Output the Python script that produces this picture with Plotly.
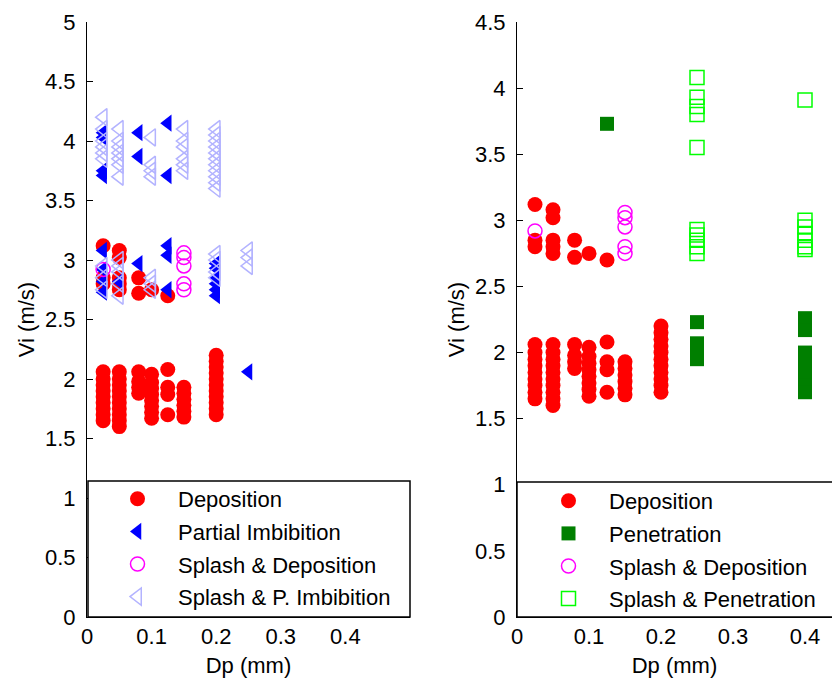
import plotly.graph_objects as go

# ---------------- data ----------------
# Deposition (shared by both panels)
dep_x = ([0.025]*12 + [0.05]*15 + [0.08]*6 + [0.1]*9 + [0.125]*5 + [0.15]*6 + [0.2]*11)
dep_y = ([3.12, 2.85, 2.8, 2.06, 2.0, 1.95, 1.9, 1.85, 1.8, 1.75, 1.7, 1.65] +
         [3.08, 3.02, 2.85, 2.8, 2.75, 2.06, 2.0, 1.95, 1.9, 1.85, 1.8, 1.75, 1.7, 1.65, 1.6] +
         [2.85, 2.72, 2.06, 1.98, 1.93, 1.88] +
         [2.75, 2.04, 1.97, 1.92, 1.87, 1.82, 1.77, 1.72, 1.67] +
         [2.7, 2.08, 1.93, 1.87, 1.7] +
         [1.93, 1.88, 1.83, 1.78, 1.73, 1.68] +
         [2.2, 2.15, 2.1, 2.05, 2.0, 1.95, 1.9, 1.85, 1.8, 1.75, 1.7])

# Splash & Deposition (shared)
sdep_x = [0.025, 0.15, 0.15, 0.15, 0.15, 0.15]
sdep_y = [2.92, 3.06, 3.02, 2.95, 2.8, 2.75]

# Partial Imbibition (left panel)
pimb_x = ([0.025]*8 + [0.05] + [0.08]*3 + [0.125]*5 + [0.2]*6 + [0.25])
pimb_y = ([4.07, 4.03, 3.75, 3.71, 3.08, 2.92, 2.82, 2.73] + [2.82] +
          [4.07, 3.87, 2.97] + [4.15, 3.71, 3.12, 3.04, 2.75] +
          [2.97, 2.93, 2.85, 2.8, 2.75, 2.7] + [2.06])

# Splash & P. Imbibition (left panel)
spimb_x = ([0.025]*9 + [0.05]*12 + [0.1]*7 + [0.15]*6 + [0.2]*15 + [0.25]*3)
spimb_y = ([4.2, 4.1, 4.0, 3.95, 3.9, 3.85, 2.95, 2.85, 2.75] +
           [4.1, 4.0, 3.95, 3.9, 3.85, 3.8, 3.7, 3.0, 2.95, 2.9, 2.8, 2.7] +
           [4.03, 3.8, 3.75, 3.7, 2.85, 2.8, 2.75] +
           [4.1, 4.0, 3.95, 3.85, 3.8, 3.75] +
           [4.1, 4.05, 4.0, 3.95, 3.9, 3.85, 3.8, 3.75, 3.7, 3.65, 3.6, 3.05, 3.0, 2.9, 2.85] +
           [3.08, 3.02, 2.95])

# Penetration (right panel)
pen_x = [0.125] + [0.25]*4 + [0.4]*9
pen_y = ([3.73] + [2.23, 2.07, 2.0, 1.95] +
         [2.26, 2.17, 2.0, 1.95, 1.9, 1.85, 1.8, 1.75, 1.7])

# Splash & Penetration (right panel)
spen_x = [0.25]*10 + [0.4]*7
spen_y = ([4.08, 3.93, 3.86, 3.8, 3.55, 2.93, 2.89, 2.85, 2.8, 2.75] +
          [3.91, 3.0, 2.95, 2.9, 2.85, 2.8, 2.78])

x_ticks = [0, 0.1, 0.2, 0.3, 0.4]
y_ticks_left = [0, 0.5, 1, 1.5, 2, 2.5, 3, 3.5, 4, 4.5, 5]
y_ticks_right = [0, 0.5, 1, 1.5, 2, 2.5, 3, 3.5, 4, 4.5]

# ---------------- figure ----------------
W, H = 832, 682
FONT = "Liberation Sans, Arial, sans-serif"
FS = 22

def px_x(p):
    return p / W

def px_y(p):
    return 1 - p / H

fig = go.Figure()

RED = "#ff0000"
BLUE = "#0000ff"
MAG = "#ff00ff"
LBLUE = "#b3b3ff"
DGREEN = "#007f00"
LGREEN = "#00ff00"

def add(x, y, name, symbol, size, color, ax, leg, open_=False):
    if open_:
        marker = dict(symbol=symbol, size=size, color=color, line=dict(width=1.5, color=color))
    else:
        marker = dict(symbol=symbol, size=size, color=color, line=dict(width=0))
    fig.add_trace(go.Scatter(x=x, y=y, mode="markers", name=name, marker=marker,
                             xaxis="x" + ax, yaxis="y" + ax, legend=leg,
                             legendgroup=leg + name))

# left panel
add(dep_x, dep_y, "Deposition", "circle", 15, RED, "", "legend")
add(pimb_x, pimb_y, "Partial Imbibition", "triangle-left", 15, BLUE, "", "legend")
add(sdep_x, sdep_y, "Splash & Deposition", "circle-open", 14, MAG, "", "legend", True)
add(spimb_x, spimb_y, "Splash & P. Imbibition", "triangle-left-open", 15, LBLUE, "", "legend", True)

# right panel
add(dep_x, dep_y, "Deposition", "circle", 15, RED, "2", "legend2")
add(pen_x, pen_y, "Penetration", "square", 14, DGREEN, "2", "legend2")
add(sdep_x, sdep_y, "Splash & Deposition", "circle-open", 14, MAG, "2", "legend2", True)
add(spen_x, spen_y, "Splash & Penetration", "square-open", 14, LGREEN, "2", "legend2", True)

axis_common = dict(showline=True, linecolor="black", linewidth=1, ticks="inside", ticklen=6,
                   tickcolor="black", tickwidth=1, showgrid=False, zeroline=False,
                   automargin=False,
                   tickfont=dict(family=FONT, size=FS, color="black"),
                   title_font=dict(family=FONT, size=FS, color="black"), mirror=False)

y_dom = [px_y(617), px_y(22)]

fig.update_layout(
    width=W, height=H,
    margin=dict(l=0, r=0, t=0, b=0, pad=0, autoexpand=False),
    paper_bgcolor="white", plot_bgcolor="white",
    font=dict(family=FONT, size=FS, color="black"),
    xaxis=dict(domain=[px_x(87), px_x(410)], range=[0, 0.5], tickvals=x_ticks,
               title=dict(text="Dp (mm)", standoff=9), anchor="y", **axis_common),
    yaxis=dict(domain=y_dom, range=[0, 5], tickvals=y_ticks_left, anchor="x",
               title=dict(text="Vi (m/s)", standoff=4), ticklabelstandoff=6, **axis_common),
    xaxis2=dict(domain=[px_x(517), 1.0], range=[0, 0.4375], tickvals=x_ticks,
                title=dict(text="Dp (mm)", standoff=9), anchor="y2", **axis_common),
    yaxis2=dict(domain=y_dom, range=[0, 4.5], tickvals=y_ticks_right, anchor="x2",
                title=dict(text="Vi (m/s)", standoff=4), ticklabelstandoff=6, **axis_common),
    legend=dict(x=px_x(97), xanchor="left", y=px_y(478), yanchor="top",
                bgcolor="rgba(0,0,0,0)", borderwidth=0, itemwidth=71,
                font=dict(family=FONT, size=FS, color="black"), tracegroupgap=1),
    legend2=dict(x=px_x(528), xanchor="left", y=px_y(480), yanchor="top",
                 bgcolor="rgba(0,0,0,0)", borderwidth=0, itemwidth=71,
                 font=dict(family=FONT, size=FS, color="black"), tracegroupgap=1),
    shapes=[
        dict(type="rect", xref="paper", yref="paper", x0=px_x(88), x1=px_x(410),
             y0=px_y(617), y1=px_y(481), line=dict(color="black", width=1.5),
             fillcolor="white", layer="above"),
        dict(type="rect", xref="paper", yref="paper", x0=px_x(517), x1=px_x(845),
             y0=px_y(617), y1=px_y(482), line=dict(color="black", width=1.5),
             fillcolor="white", layer="above"),
    ],
)

fig.write_html("out.html")
